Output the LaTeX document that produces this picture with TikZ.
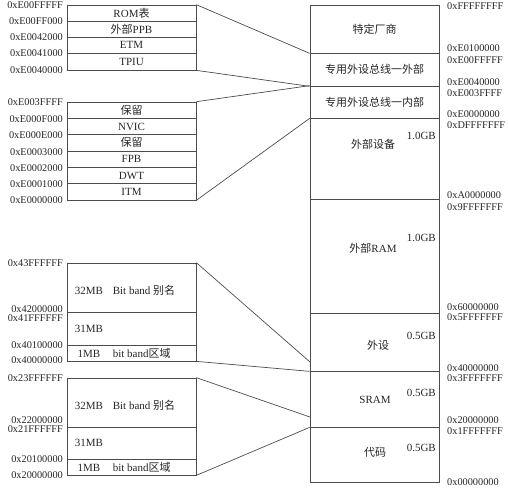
\documentclass[tikz,border=0pt]{standalone}
\usepackage{fontspec}
\setmainfont{Liberation Serif}
\newfontfamily\cjk{Noto Sans CJK SC}
\usetikzlibrary{positioning,calc}

\begin{document}
\begin{tikzpicture}[
  x=1pt, y=-1pt,
  font=\fontsize{11}{12}\selectfont, text=black!85,
  seg/.style={draw=black!70, line width=0.7pt, minimum width=129pt, inner sep=0pt},
  addr/.style={font=\fontsize{10.3}{11}\selectfont, inner sep=0pt},
  lbl/.style={inner sep=0pt},
  zoomln/.style={draw=black!70, line width=0.7pt},
]
  \useasboundingbox (0,0) rectangle (508,491);

  %=================== memory map (right) ===================
  \node[seg, minimum height=48pt]  (vendor) at (374.5,29)    {\cjk 特定厂商};
  \node[seg, minimum height=33pt]  (ppbext) at (374.5,69.5)  {\cjk 专用外设总线一外部};
  \node[seg, minimum height=32pt]  (ppbint) at (374.5,102)   {\cjk 专用外设总线一内部};
  \node[seg, minimum height=81pt]  (extdev) at (374.5,158.5) {};
  \node[seg, minimum height=114pt] (extram) at (374.5,256)   {};
  \node[seg, minimum height=58pt]  (periph) at (374.5,342)   {};
  \node[seg, minimum height=56pt]  (sram)   at (374.5,399)   {};
  \node[seg, minimum height=55pt]  (code)   at (374.5,454.5) {};

  \node[lbl] (devname)  at (373,144) {\cjk 外部设备};
  \node[lbl, anchor=east] (devsize)  at (436,136) {1.0GB};
  \node[lbl] (ramname)  at (373,248) {{\cjk 外部}RAM};
  \node[lbl, anchor=east] (ramsize)  at (436,238) {1.0GB};
  \node[lbl] (pername)  at (378,345) {\cjk 外设};
  \node[lbl, anchor=east] (persize)  at (436,336) {0.5GB};
  \node[lbl] (sramname) at (375,400) {SRAM};
  \node[lbl, anchor=east] (sramsize) at (436,393) {0.5GB};
  \node[lbl] (codename) at (375,452) {\cjk 代码};
  \node[lbl, anchor=east] (codesize) at (436,448) {0.5GB};

  % addresses, right side
  \node[addr, anchor=west] (r0)  at (447,6)   {0xFFFFFFFF};
  \node[addr, anchor=west] (r1)  at (447,48)  {0xE0100000};
  \node[addr, anchor=west] (r2)  at (447,60)  {0xE00FFFFF};
  \node[addr, anchor=west] (r3)  at (447,82)  {0xE0040000};
  \node[addr, anchor=west] (r4)  at (447,93)  {0xE003FFFF};
  \node[addr, anchor=west] (r5)  at (447,114) {0xE0000000};
  \node[addr, anchor=west] (r6)  at (447,125) {0xDFFFFFFF};
  \node[addr, anchor=west] (r7)  at (447,195) {0xA0000000};
  \node[addr, anchor=west] (r8)  at (447,207) {0x9FFFFFFF};
  \node[addr, anchor=west] (r9)  at (447,307) {0x60000000};
  \node[addr, anchor=west] (r10) at (447,317) {0x5FFFFFFF};
  \node[addr, anchor=west] (r11) at (447,368) {0x40000000};
  \node[addr, anchor=west] (r12) at (447,378) {0x3FFFFFFF};
  \node[addr, anchor=west] (r13) at (447,420) {0x20000000};
  \node[addr, anchor=west] (r14) at (447,431) {0x1FFFFFFF};
  \node[addr, anchor=west] (r15) at (447,482) {0x00000000};

  %=================== external PPB ===================
  \node[seg, minimum height=16pt] (rom)  at (131.5,13)   {ROM{\cjk 表}};
  \node[seg, minimum height=16pt] (xppb) at (131.5,29)   {{\cjk 外部}PPB};
  \node[seg, minimum height=16pt] (etm)  at (131.5,45)   {ETM};
  \node[seg, minimum height=17pt] (tpiu) at (131.5,61.5) {TPIU};

  \node[addr, anchor=east] (a0) at (63,5)  {0xE00FFFFF};
  \node[addr, anchor=east] (a1) at (63,21) {0xE00FF000};
  \node[addr, anchor=east] (a2) at (63,37) {0xE0042000};
  \node[addr, anchor=east] (a3) at (63,53) {0xE0041000};
  \node[addr, anchor=east] (a4) at (63,70) {0xE0040000};

  %=================== internal PPB ===================
  \node[seg, minimum height=16.33pt] (rsvb) at (131.5,110.2) {\cjk 保留};
  \node[seg, minimum height=16.33pt] (nvic) at (131.5,126.5) {NVIC};
  \node[seg, minimum height=16.33pt] (rsva) at (131.5,142.8) {\cjk 保留};
  \node[seg, minimum height=16.33pt] (fpb)  at (131.5,159.2) {FPB};
  \node[seg, minimum height=16.33pt] (dwt)  at (131.5,175.5) {DWT};
  \node[seg, minimum height=16.33pt] (itm)  at (131.5,191.8) {ITM};

  \node[addr, anchor=east] (b0) at (63,102) {0xE003FFFF};
  \node[addr, anchor=east] (b1) at (63,119) {0xE000F000};
  \node[addr, anchor=east] (b2) at (63,135) {0xE000E000};
  \node[addr, anchor=east] (b3) at (63,152) {0xE0003000};
  \node[addr, anchor=east] (b4) at (63,168) {0xE0002000};
  \node[addr, anchor=east] (b5) at (63,184) {0xE0001000};
  \node[addr, anchor=east] (b6) at (63,200) {0xE0000000};

  %=================== peripheral bit band ===================
  \node[seg, minimum height=49pt] (palias) at (131.5,287.5) {};
  \node[seg, minimum height=33pt] (prest)  at (131.5,328.5) {};
  \node[seg, minimum height=16pt] (pband)  at (131.5,353)   {};
  \node[lbl, anchor=west] (paliastxt) at ($(palias.west)+(7,3)$) {\makebox[30pt]{32MB}\hspace{9pt}Bit band {\cjk 别名}};
  \node[lbl, anchor=west] (presttxt)  at ($(prest.west)+(7,0)$)  {\makebox[30pt]{31MB}};
  \node[lbl, anchor=west] (pbandtxt)  at ($(pband.west)+(7,0)$)  {\makebox[30pt]{1MB}\hspace{9pt}bit band{\cjk 区域}};

  \node[addr, anchor=east] (c0) at (63,263) {0x43FFFFFF};
  \node[addr, anchor=east] (c1) at (63,309) {0x42000000};
  \node[addr, anchor=east] (c2) at (63,318) {0x41FFFFFF};
  \node[addr, anchor=east] (c3) at (63,345) {0x40100000};
  \node[addr, anchor=east] (c4) at (63,360) {0x40000000};

  %=================== SRAM bit band ===================
  \node[seg, minimum height=49pt] (salias) at (131.5,402.5) {};
  \node[seg, minimum height=32pt] (srest)  at (131.5,443)   {};
  \node[seg, minimum height=16pt] (sband)  at (131.5,467)   {};
  \node[lbl, anchor=west] (saliastxt) at ($(salias.west)+(7,3)$) {\makebox[30pt]{32MB}\hspace{9pt}Bit band {\cjk 别名}};
  \node[lbl, anchor=west] (sresttxt)  at ($(srest.west)+(7,0)$)  {\makebox[30pt]{31MB}};
  \node[lbl, anchor=west] (sbandtxt)  at ($(sband.west)+(7,0)$)  {\makebox[30pt]{1MB}\hspace{9pt}bit band{\cjk 区域}};

  \node[addr, anchor=east] (d0) at (63,378) {0x23FFFFFF};
  \node[addr, anchor=east] (d1) at (63,420) {0x22000000};
  \node[addr, anchor=east] (d2) at (63,429) {0x21FFFFFF};
  \node[addr, anchor=east] (d3) at (63,459) {0x20100000};
  \node[addr, anchor=east] (d4) at (63,475) {0x20000000};

  %=================== zoom lines ===================
  \coordinate (perend)  at (310,362);
  \coordinate (sramend) at (310,417);
  \draw[zoomln] (rom.north east)    -- (vendor.south west);
  \draw[zoomln] (tpiu.south east)   -- (ppbext.south west);
  \draw[zoomln] (rsvb.north east)   -- (ppbint.north west);
  \draw[zoomln] (itm.south east)    -- (ppbint.south west);
  \draw[zoomln] (palias.north east) -- (perend);
  \draw[zoomln] (pband.south east)  -- (periph.south west);
  \draw[zoomln] (salias.north east) -- (sramend);
  \draw[zoomln] (sband.south east)  -- (sram.south west);
\end{tikzpicture}
\end{document}
